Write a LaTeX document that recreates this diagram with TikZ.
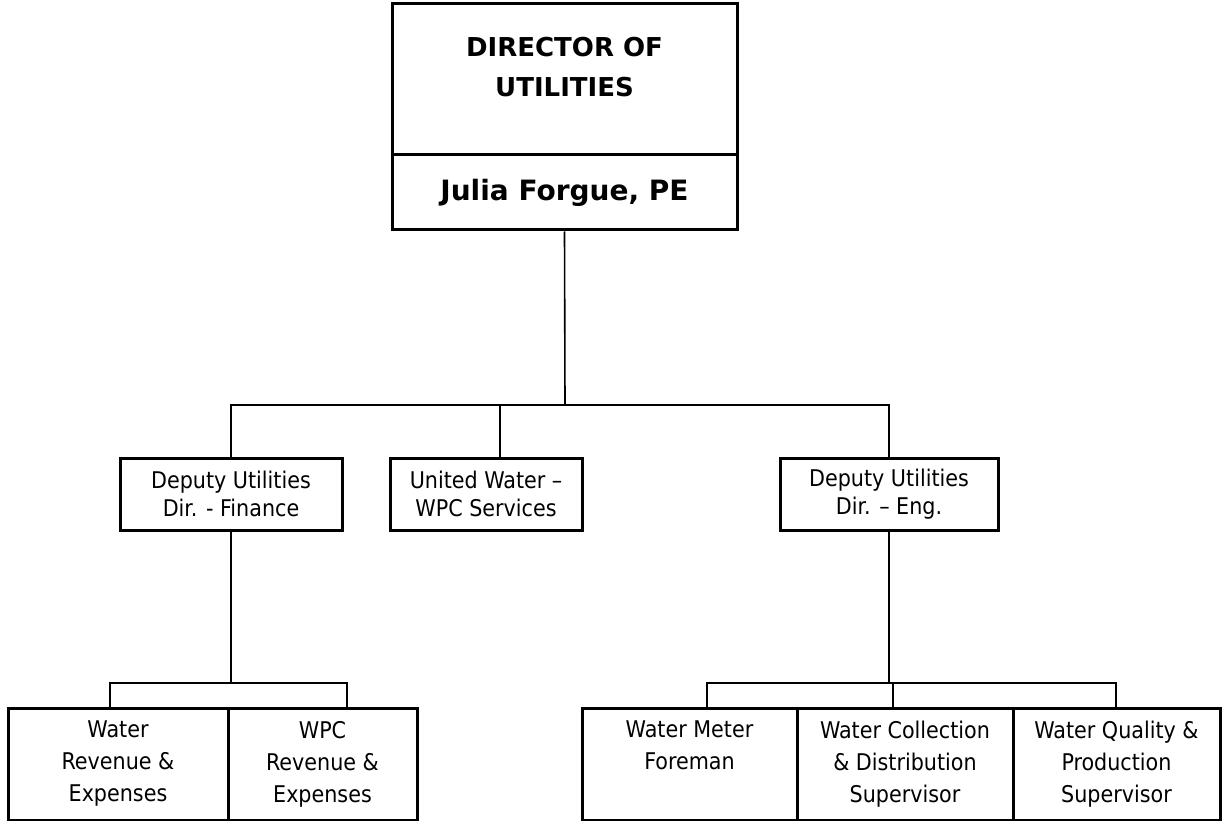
\documentclass[tikz,border=0pt]{standalone}
\usepackage{fontspec}
\setmainfont{DejaVu Sans Condensed}
\newfontfamily\boldfont{DejaVu Sans}
\begin{document}
\begin{tikzpicture}[x=1pt,y=-1pt,
  box/.style={draw=black,line width=3pt,rectangle,inner sep=0pt,align=center,
    font=\fontsize{23}{28}\selectfont},
  topbox/.style={box,font=\fontsize{26}{40}\boldfont\bfseries},
  conn/.style={draw=black,line width=1.6pt}]
\useasboundingbox (0,0) rectangle (1227,821);
\fill[white] (0,0) rectangle (1227,821);
% director
\node[topbox,minimum width=345pt,minimum height=151pt] (dir) at (564.5,79.5)
  {\parbox[c][84pt][t]{330pt}{\centering DIRECTOR OF\\UTILITIES}};
\node[topbox,minimum width=345pt,minimum height=75pt,font=\fontsize{28}{34}\boldfont\bfseries] (name) at (564.5,192.5) {Julia Forgue, PE};
% deputies
\node[box,minimum width=222pt,minimum height=72pt] (fin) at (231,494) {Deputy Utilities\\Dir. - Finance};
\node[box,minimum width=192pt,minimum height=72pt] (uw) at (486,494) {United Water --\\WPC Services};
\node[box,minimum width=218pt,minimum height=72pt] (eng) at (889,494) {Deputy Utilities\\Dir. -- Eng.};
% bottom
\tikzset{low/.style={box,minimum height=112pt,font=\fontsize{23}{32}\selectfont}}
\newcommand\lowtext[2]{\parbox[c][86pt][t]{#1}{\centering #2}}
\node[low,minimum width=220pt] (wr) at (118,764) {\lowtext{200pt}{Water\\Revenue \&\\Expenses}};
\node[low,minimum width=189pt] (wpc) at (322.5,764) {\lowtext{180pt}{WPC\\Revenue \&\\Expenses}};
\node[low,minimum width=215pt] (wm) at (689.5,764) {\lowtext{200pt}{Water Meter\\Foreman}};
\node[low,minimum width=216pt] (wc) at (905,764) {\lowtext{205pt}{Water Collection\\\& Distribution\\Supervisor}};
\node[low,minimum width=207pt] (wq) at (1116.5,764) {\lowtext{200pt}{Water Quality \&\\Production\\Supervisor}};
% connectors
\coordinate (bar) at (565,405);
\coordinate (uwdrop) at (500,405);
\draw[conn] (name.south) -- (bar);
\draw[conn] (fin.north) |- (bar) -| (eng.north);
\draw[conn] (uwdrop) -- (uwdrop |- uw.north);
\coordinate (lbar) at (231,683);
\coordinate (lbl) at (110,683);
\coordinate (lbr) at (347,683);
\draw[conn] (fin.south) -- (lbar);
\draw[conn] (wr.north -| lbl) -- (lbl) -- (lbr) -- (wpc.north -| lbr);
\coordinate (rbar) at (889,683);
\coordinate (rbl) at (707,683);
\coordinate (rbm) at (893,683);
\coordinate (rbr) at (1116,683);
\draw[conn] (eng.south) -- (rbar);
\draw[conn] (wm.north -| rbl) -- (rbl) -- (rbr) -- (wq.north -| rbr);
\draw[conn] (rbm) -- (wc.north -| rbm);
\end{tikzpicture}
\end{document}
